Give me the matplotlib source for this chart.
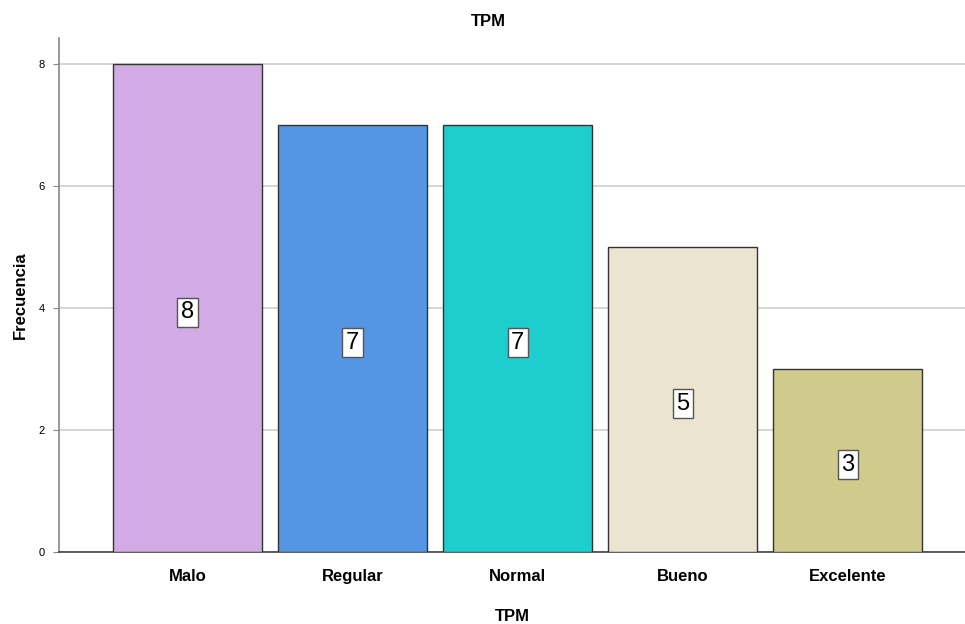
import matplotlib
matplotlib.use("Agg")
import matplotlib.pyplot as plt

categories = ["Malo", "Regular", "Normal", "Bueno", "Excelente"]
counts = [8, 7, 7, 5, 3]
colors = ["#D2AAE4", "#5495E4", "#1ECDCD", "#EAE4D0", "#D0CA8C"]
yticks = [0, 2, 4, 6, 8]

plt.rcParams["font.family"] = ["Liberation Sans", "DejaVu Sans"]

fig = plt.figure(figsize=(9.65, 6.24), dpi=100)
ax = fig.add_axes([0.0611, 0.1154, 0.9389, 0.8236])

x = list(range(len(categories)))
ax.bar(x, counts, width=0.903, color=colors, edgecolor="#333333",
       linewidth=1.0, zorder=3)

for xi, v in zip(x, counts):
    ax.text(xi, v / 2 - 0.07, str(v), ha="center", va="center", fontsize=17,
            color="black", zorder=4,
            bbox=dict(boxstyle="square,pad=0.15", facecolor="white",
                      edgecolor="#555555", linewidth=1.0))

ax.set_xlim(-0.779, 4.71)
ax.set_ylim(0, 8.43)
ax.set_yticks(yticks)
ax.set_yticklabels([str(t) for t in yticks], fontsize=8)
ax.set_xticks(x)
ax.set_xticklabels(categories, fontsize=12, fontweight="bold")
ax.tick_params(axis="x", length=0, pad=12)
ax.tick_params(axis="y", length=4, color="#888888", pad=6)

ax.yaxis.grid(True, color="#D0D0D0", linewidth=1.2, zorder=0)
ax.set_axisbelow(True)

for s in ["top", "right"]:
    ax.spines[s].set_visible(False)
ax.spines["left"].set_color("#888888")
ax.spines["left"].set_linewidth(1.2)
ax.spines["bottom"].set_color("#444444")
ax.spines["bottom"].set_linewidth(1.2)

fig.text(0.506, 0.965, "TPM", ha="center", va="center",
         fontsize=12, fontweight="bold")
ax.set_xlabel("TPM", fontsize=12, fontweight="bold", labelpad=18)
ax.set_ylabel("Frecuencia", fontsize=12, fontweight="bold", labelpad=8)

fig.savefig("out.png", dpi=100, facecolor="white")
